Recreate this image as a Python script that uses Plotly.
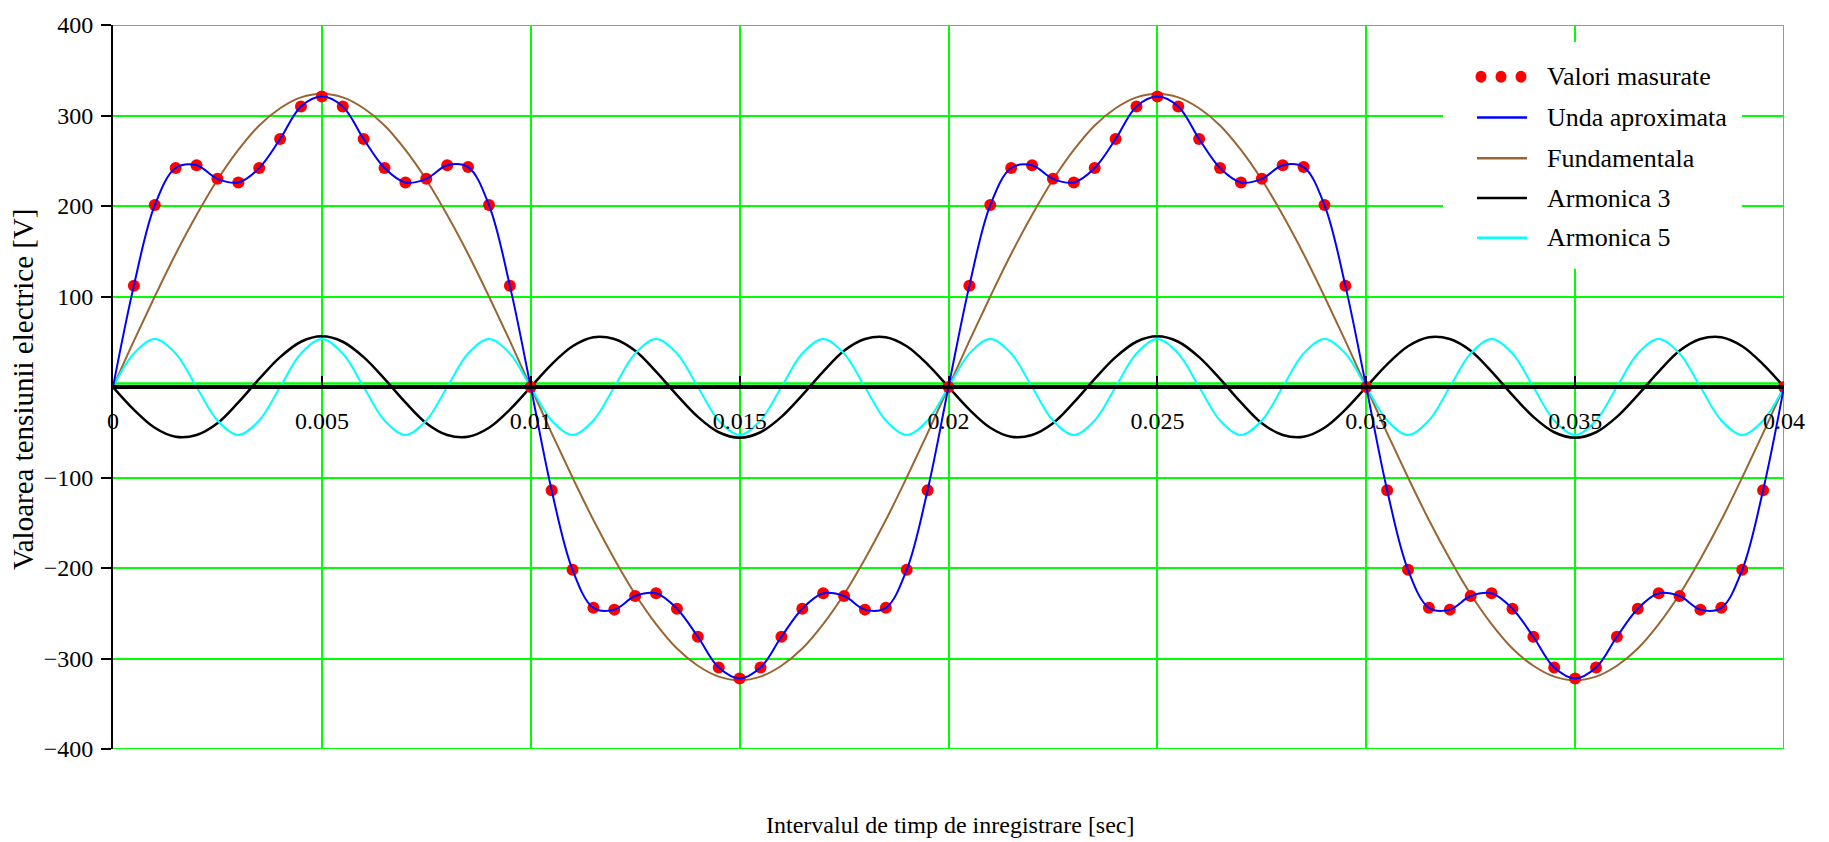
import plotly.graph_objects as go

# ---------------- data ----------------
t = [0, 0.0005, 0.001, 0.0015, 0.002, 0.0025, 0.003, 0.0035, 0.004, 0.0045,
     0.005, 0.0055, 0.006, 0.0065, 0.007, 0.0075, 0.008, 0.0085, 0.009, 0.0095,
     0.01, 0.0105, 0.011, 0.0115, 0.012, 0.0125, 0.013, 0.0135, 0.014, 0.0145,
     0.015, 0.0155, 0.016, 0.0165, 0.017, 0.0175, 0.018, 0.0185, 0.019, 0.0195,
     0.02, 0.0205, 0.021, 0.0215, 0.022, 0.0225, 0.023, 0.0235, 0.024, 0.0245,
     0.025, 0.0255, 0.026, 0.0265, 0.027, 0.0275, 0.028, 0.0285, 0.029, 0.0295,
     0.03, 0.0305, 0.031, 0.0315, 0.032, 0.0325, 0.033, 0.0335, 0.034, 0.0345,
     0.035, 0.0355, 0.036, 0.0365, 0.037, 0.0375, 0.038, 0.0385, 0.039, 0.0395,
     0.04]

measured = [0, 112, 201, 242, 245, 230, 226, 242, 274, 310,
            321, 310, 274, 242, 226, 230, 245, 243, 201, 112,
            0, -114, -202, -244, -246, -231, -228, -245, -276, -310,
            -322, -310, -276, -245, -228, -231, -246, -244, -202, -114,
            0, 112, 201, 242, 245, 230, 226, 242, 274, 310,
            321, 310, 274, 242, 226, 230, 245, 243, 201, 112,
            0, -114, -202, -244, -246, -231, -228, -245, -276, -310,
            -322, -310, -276, -245, -228, -231, -246, -244, -202, -114,
            0]

fundamental = [0, 51, 100, 147, 190, 229, 262, 289, 308, 320,
               324, 320, 308, 289, 262, 229, 190, 147, 100, 51,
               0, -51, -100, -147, -190, -229, -262, -289, -308, -320,
               -324, -320, -308, -289, -262, -229, -190, -147, -100, -51,
               0, 51, 100, 147, 190, 229, 262, 289, 308, 320,
               324, 320, 308, 289, 262, 229, 190, 147, 100, 51,
               0, -51, -100, -147, -190, -229, -262, -289, -308, -320,
               -324, -320, -308, -289, -262, -229, -190, -147, -100, -51,
               0]

harm3 = [0, -25, -45, -55, -53, -40, -17, 9, 33, 50,
         56, 50, 33, 9, -17, -40, -53, -55, -45, -25,
         0, 25, 45, 55, 53, 40, 17, -9, -33, -50,
         -56, -50, -33, -9, 17, 40, 53, 55, 45, 25,
         0, -25, -45, -55, -53, -40, -17, 9, 33, 50,
         56, 50, 33, 9, -17, -40, -53, -55, -45, -25,
         0, 25, 45, 55, 53, 40, 17, -9, -33, -50,
         -56, -50, -33, -9, 17, 40, 53, 55, 45, 25,
         0]

harm5 = [0, 37, 53, 37, 0, -37, -53, -37,
         0, 37, 53, 37, 0, -37, -53, -37,
         0, 37, 53, 37, 0, -37, -53, -37,
         0, 37, 53, 37, 0, -37, -53, -37,
         0, 37, 53, 37, 0, -37, -53, -37,
         0, 37, 53, 37, 0, -37, -53, -37,
         0, 37, 53, 37, 0, -37, -53, -37,
         0, 37, 53, 37, 0, -37, -53, -37,
         0, 37, 53, 37, 0, -37, -53, -37,
         0, 37, 53, 37, 0, -37, -53, -37,
         0]

x_tickvals = [0, 0.005, 0.01, 0.015, 0.02, 0.025, 0.03, 0.035, 0.04]
x_ticktext = ["0", "0.005", "0.01", "0.015", "0.02", "0.025", "0.03", "0.035", "0.04"]
y_tickvals = [-400, -300, -200, -100, 100, 200, 300, 400]

legend_names = ["Valori masurate", "Unda aproximata", "Fundamentala", "Armonica 3", "Armonica 5"]

# ---------------- styling ----------------
W, H = 1829, 842
ML, MR, MT, MB = 113, 45, 21, 93
PW, PH = W - ML - MR, H - MT - MB
FONT = "Liberation Serif"
GREEN = "#00ff00"
C_BLUE, C_BROWN, C_BLACK, C_CYAN, C_RED = "#0000ff", "#996633", "#000000", "#00ffff", "#ff0000"


def px_x(p):
    return (p - ML) / PW


def px_y(p):
    return (H - MB - p) / PH


fig = go.Figure()
fig.add_trace(go.Scatter(x=t, y=fundamental, mode="lines", line=dict(color=C_BROWN, width=2, shape="spline"), name=legend_names[2]))
fig.add_trace(go.Scatter(x=t, y=harm3, mode="lines", line=dict(color=C_BLACK, width=2.5, shape="spline"), name=legend_names[3]))
fig.add_trace(go.Scatter(x=t, y=harm5, mode="lines", line=dict(color=C_CYAN, width=2, shape="spline"), name=legend_names[4]))
fig.add_trace(go.Scatter(x=t[1:], y=measured[1:], mode="markers", marker=dict(color=C_RED, size=12), name=legend_names[0]))
fig.add_trace(go.Scatter(x=t, y=measured, mode="lines", line=dict(color=C_BLUE, width=2, shape="spline"), name=legend_names[1]))

shapes = [
    dict(type="line", xref="x", yref="y", x0=0, x1=0.04, y0=400, y1=400, line=dict(color=GREEN, width=2), layer="below"),
    dict(type="line", xref="x", yref="y", x0=0, x1=0.04, y0=-400, y1=-400, line=dict(color=GREEN, width=2), layer="below"),
    dict(type="line", xref="x", yref="y", x0=0.04, x1=0.04, y0=-400, y1=400, line=dict(color=GREEN, width=2), layer="below"),
    dict(type="line", xref="x", yref="y", x0=0, x1=0.04, y0=4, y1=4, line=dict(color=GREEN, width=2.5), layer="below"),
    dict(type="rect", xref="paper", yref="paper", x0=px_x(1443), x1=px_x(1742), y0=px_y(266), y1=px_y(38),
         fillcolor="white", line=dict(width=0), layer="above"),
]

annotations = []
row_y = [73, 114, 155, 195, 235]
line_colors = [None, C_BLUE, C_BROWN, C_BLACK, C_CYAN]
for i, name in enumerate(legend_names):
    yy = px_y(row_y[i])
    if i == 0:
        for cx in (1481, 1501, 1521):
            shapes.append(dict(type="circle", xref="paper", yref="paper", xsizemode="pixel", ysizemode="pixel",
                               xanchor=px_x(cx), yanchor=yy, x0=-5.5, x1=5.5, y0=-6, y1=6,
                               fillcolor=C_RED, line=dict(width=0), layer="above"))
    else:
        shapes.append(dict(type="line", xref="paper", yref="paper", x0=px_x(1477), x1=px_x(1527), y0=yy, y1=yy,
                           line=dict(color=line_colors[i], width=2.5), layer="above"))
    annotations.append(dict(text=name, xref="paper", yref="paper", x=px_x(1545), y=yy, xanchor="left", yanchor="middle",
                            showarrow=False, font=dict(family=FONT, size=26, color="black")))

annotations.append(dict(text="Valoarea tensiunii electrice [V]", xref="paper", yref="paper", x=px_x(23), y=px_y(387),
                        xanchor="center", yanchor="middle", textangle=-90, showarrow=False,
                        font=dict(family=FONT, size=29, color="black")))
annotations.append(dict(text="Intervalul de timp de inregistrare [sec]", xref="paper", yref="paper", x=px_x(950), y=px_y(825),
                        xanchor="center", yanchor="middle", showarrow=False,
                        font=dict(family=FONT, size=24, color="black")))

fig.update_layout(
    width=W, height=H,
    margin=dict(l=ML, r=MR, t=MT, b=MB, pad=0),
    paper_bgcolor="white", plot_bgcolor="white",
    showlegend=False,
    font=dict(family=FONT, size=24, color="black"),
    shapes=shapes, annotations=annotations,
    xaxis=dict(range=[0, 0.04], tickvals=x_tickvals, ticktext=x_ticktext,
               showgrid=True, gridcolor=GREEN, gridwidth=2, zeroline=False,
               showline=True, linecolor="black", linewidth=4,
               anchor="free", position=0.5,
               ticks="inside", ticklen=9, tickwidth=2, tickcolor="black",
               ticklabelstandoff=11,
               tickfont=dict(family=FONT, size=24, color="black")),
    yaxis=dict(range=[-400, 400], tickvals=y_tickvals,
               showgrid=True, gridcolor=GREEN, gridwidth=2, zeroline=False,
               showline=True, linecolor="black", linewidth=2,
               ticks="outside", ticklen=10, tickwidth=2, tickcolor="black",
               ticklabelstandoff=3,
               tickfont=dict(family=FONT, size=24, color="black")),
)

fig.write_html("out.html")
